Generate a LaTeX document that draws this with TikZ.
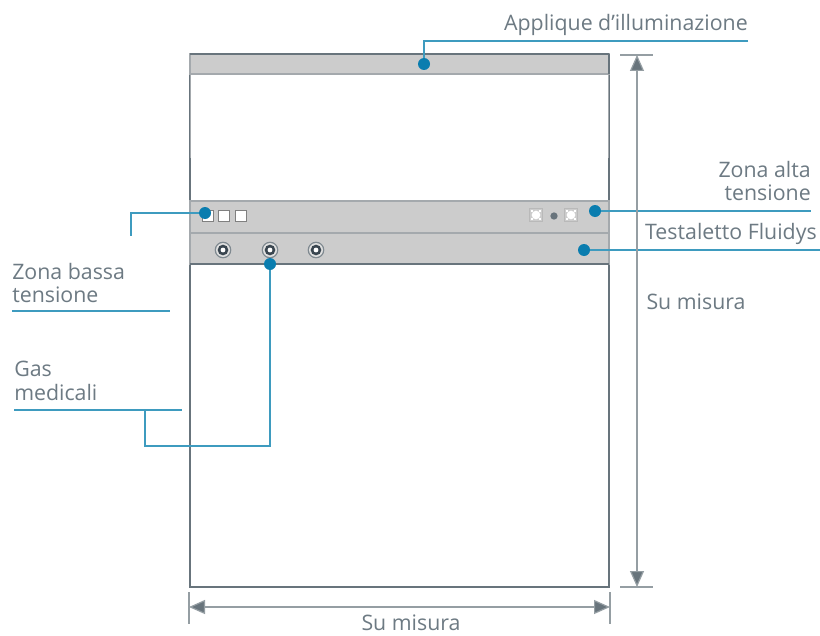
\documentclass[tikz,border=0pt]{standalone}
\usepackage{fontspec}
\setmainfont{Open Sans}
\usepackage{tikz}
\usetikzlibrary{arrows.meta}
\definecolor{wallgray}{HTML}{68747C}
\definecolor{bandgray}{HTML}{CCCCCC}
\definecolor{bandedge}{HTML}{A4A9AD}
\definecolor{leadblue}{HTML}{3E9BBF}
\definecolor{dotblue}{HTML}{0A7DAF}
\definecolor{textgray}{HTML}{6D7A83}
\definecolor{socketdark}{HTML}{3A4650}
\tikzset{
	leadline/.style={draw=leadblue, line width=.8pt},
	leaddot/.style={fill=dotblue, circle, inner sep=0pt, minimum size=9pt},
	caption/.style={text=textgray, font=\fontsize{16}{17.8}\selectfont, inner sep=0pt},
	band/.style={fill=bandgray, draw=bandedge, line width=1pt},
	plug/.style={fill=white, draw=gray, line width=.8pt, inner sep=0pt, minimum size=8.6pt},
	powerbox/.style={fill=gray!40, draw=gray!55, line width=.5pt, inner sep=0pt, minimum size=9.5pt},
	ringnode/.style={circle, inner sep=0pt},
	dimline/.style={draw=wallgray!70, line width=.9pt},
	dimarrow/.style={dimline, {Triangle[length=12pt,width=10.5pt,fill=wallgray]}-{Triangle[length=12pt,width=10.5pt,fill=wallgray]}},
}
\begin{document}
\begin{tikzpicture}[x=.75pt, y=-.75pt]
	\useasboundingbox[fill=white] (0,0) rectangle (820,635);
	% panel
	\draw[color=wallgray, line width=1.1pt, fill=white] (190,54) rectangle (609,587);
	\draw[band] (190,74) -- (190,54) -- (609,54) -- (609,74) -- cycle;
	\draw[color=wallgray, line width=1.1pt] (190,54) -- (609,54);
	\draw[color=wallgray, line width=1.1pt] (609,54) -- (609,74);
	\draw[bandedge, line width=.8pt] (190.5,74) -- (190.5,158);
	\draw[bandedge, line width=.8pt] (608.5,74) -- (608.5,158);
	\draw[band] (190,201) rectangle (609,233);
	\draw[band] (190,233) rectangle (609,264);
	\draw[color=wallgray, line width=1.1pt] (190,264) -- (609,264);
	% low voltage sockets
	\node[plug] (plugA) at (208,216) {};
	\node[plug] (plugB) at (224,216) {};
	\node[plug] (plugC) at (241,216) {};
	% high voltage sockets
	\foreach \name/\x in {powerA/536, powerC/571} {
		\node[powerbox] (\name) at (\x,215) {};
		\node[ringnode, fill=white, minimum size=6.5pt] at (\name) {};
		\foreach \dx/\dy in {-4/-4, 4/-4, -4/4, 4/4}
			\fill[white] (\x+\dx-1,215+\dy-1) rectangle (\x+\dx+1,215+\dy+1);
	}
	\node[fill=wallgray, circle, inner sep=0pt, minimum size=5.5pt] (powerB) at (554,216) {};
	% gas outlets
	\foreach \name/\x in {gasA/223, gasB/270, gasC/316} {
		\node[ringnode, fill=wallgray!85, minimum size=12.5pt] (\name) at (\x,250) {};
		\node[ringnode, fill=gray!25, minimum size=10.5pt] at (\name) {};
		\node[ringnode, fill=socketdark, minimum size=8pt] at (\name) {};
		\node[ringnode, fill=white, minimum size=3.6pt] at (\name) {};
	}
	% dots on the panel
	\node[leaddot] (dotAppl) at (424,64) {};
	\node[leaddot] (dotAlta) at (595,211) {};
	\node[leaddot] (dotFluid) at (584,250) {};
	\node[leaddot] (dotBassa) at (205,213) {};
	\node[leaddot] (dotGas) at (270,264) {};
	% captions
	\node[caption, anchor=east] (capAppl) at (748,25) {Applique d’illuminazione};
	\node[caption, anchor=east, align=right] (capAlta) at (811,181) {Zona alta\\tensione};
	\node[caption, anchor=east] (capFluid) at (817,234) {Testaletto Fluidys};
	\node[caption, anchor=west, align=left] (capBassa) at (12,283) {Zona bassa\\tensione};
	\node[caption, anchor=west, align=left] (capGas) at (14,381) {Gas\\medicali};
	\node[caption] (capHeight) at (696,302) {Su misura};
	\node[caption] (capWidth) at (411,623) {Su misura};
	% free ends of the leaders
	\coordinate (endAppl) at (748,41);
	\coordinate (endAlta) at (811,211);
	\coordinate (endFluid) at (820,250);
	\coordinate (endBassa) at (131,236);
	\coordinate (startBassaLine) at (12,311);
	\coordinate (endBassaLine) at (170,311);
	\coordinate (startGasLine) at (14,410);
	\coordinate (endGasLine) at (182,410);
	\coordinate (kneeGas) at (145,410);
	% leaders
	\draw[leadline] (endAppl) -- (dotAppl.center |- endAppl) -- (dotAppl);
	\draw[leadline] (dotAlta) -- (endAlta);
	\draw[leadline] (dotFluid) -- (endFluid);
	\draw[leadline] (dotBassa) -- (endBassa |- dotBassa) -- (endBassa);
	\draw[leadline] (startBassaLine) -- (endBassaLine);
	\draw[leadline] (startGasLine) -- (endGasLine);
	\draw[leadline] (kneeGas) |- (270,446) -- (dotGas);
	% dimensions
	\coordinate (topA) at (620,55);
	\coordinate (topB) at (653,55);
	\coordinate (botA) at (620,587);
	\coordinate (botB) at (653,587);
	\coordinate (leftA) at (189,592);
	\coordinate (leftB) at (189,624);
	\coordinate (rightA) at (610,592);
	\coordinate (rightB) at (610,624);
	\draw[dimline] (topA) -- (topB);
	\draw[dimline] (botA) -- (botB);
	\draw[dimline] (leftA) -- (leftB);
	\draw[dimline] (rightA) -- (rightB);
	\draw[dimarrow] (637,55) -- (637,587);
	\draw[dimarrow] (189,607) -- (610,607);
\end{tikzpicture}
\end{document}
